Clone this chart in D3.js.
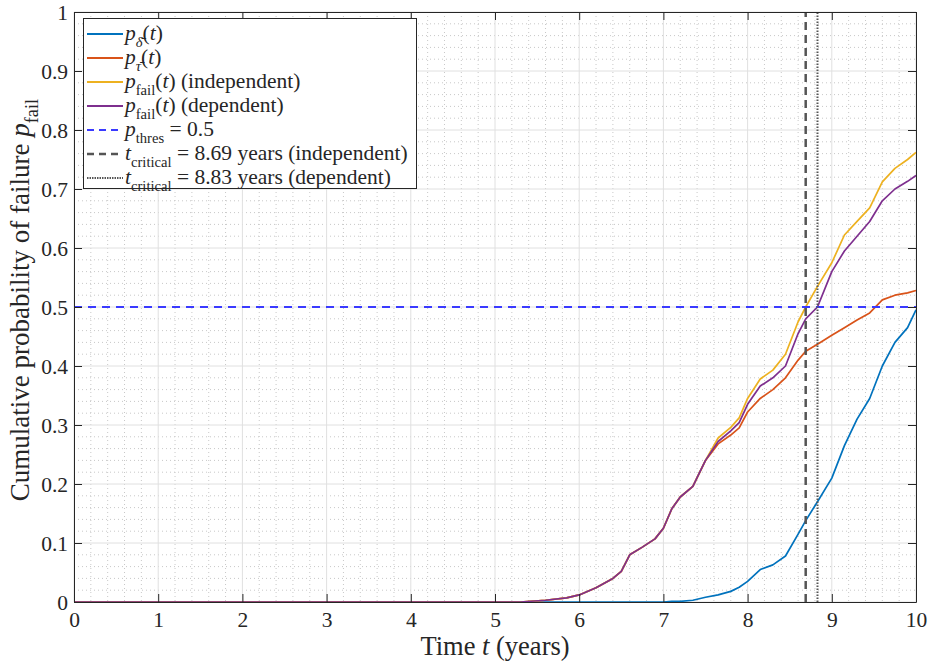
<!DOCTYPE html>
<html>
<head>
<meta charset="utf-8">
<script src="https://cdn.jsdelivr.net/npm/d3@7"></script>
<style>
  body { margin: 0; background: #fff; }
</style>
</head>
<body>
<svg id="chart" width="930" height="662"></svg>
<script>
// time grid (years) shared by the four curves
const years = [0, 5.3, 5.6, 5.85, 6.0, 6.2, 6.4, 6.5, 6.6, 6.75, 6.9, 7.0, 7.1, 7.2, 7.35, 7.5, 7.65, 7.8, 7.9, 8.0, 8.15, 8.3, 8.45, 8.6, 8.69, 8.83, 9.0, 9.15, 9.3, 9.45, 9.6, 9.75, 9.9, 10];

const pDelta = [0, 0, 0, 0, 0, 0, 0, 0, 0, 0, 0, 0, 0.001, 0.001, 0.003, 0.008, 0.012, 0.018, 0.025, 0.035, 0.055, 0.063, 0.078, 0.115, 0.138, 0.17, 0.21, 0.265, 0.31, 0.345, 0.4, 0.44, 0.465, 0.495];
const pTau = [0, 0, 0.003, 0.007, 0.012, 0.024, 0.04, 0.052, 0.08, 0.093, 0.107, 0.125, 0.158, 0.178, 0.196, 0.24, 0.268, 0.283, 0.295, 0.322, 0.345, 0.36, 0.38, 0.41, 0.425, 0.437, 0.452, 0.465, 0.478, 0.49, 0.512, 0.52, 0.524, 0.528];
const pFailIndep = [0, 0, 0.003, 0.007, 0.012, 0.024, 0.04, 0.052, 0.08, 0.093, 0.107, 0.125, 0.158, 0.178, 0.196, 0.24, 0.278, 0.296, 0.312, 0.345, 0.378, 0.393, 0.42, 0.475, 0.5, 0.535, 0.575, 0.622, 0.645, 0.668, 0.712, 0.735, 0.75, 0.762];
const pFailDep = [0, 0, 0.003, 0.007, 0.012, 0.024, 0.04, 0.052, 0.08, 0.093, 0.107, 0.125, 0.158, 0.178, 0.196, 0.24, 0.272, 0.29, 0.304, 0.335, 0.366, 0.38, 0.4, 0.455, 0.48, 0.5, 0.56, 0.595, 0.62, 0.645, 0.68, 0.7, 0.713, 0.723];

const pThres = 0.5;
const tCritIndep = 8.69;
const tCritDep = 8.83;

const xTicks = [0, 1, 2, 3, 4, 5, 6, 7, 8, 9, 10];
const yTicks = [0, 0.1, 0.2, 0.3, 0.4, 0.5, 0.6, 0.7, 0.8, 0.9, 1];

const FONT = "'Liberation Serif', 'DejaVu Serif', 'Times New Roman', serif";
const INK = "#262626";

const svg = d3.select("#chart");
const m = { left: 74, right: 916, top: 12, bottom: 602 };

const x = d3.scaleLinear().domain([0, 10]).range([m.left, m.right]);
const y = d3.scaleLinear().domain([0, 1]).range([m.bottom, m.top]);

// minor grid (dotted)
const xMinor = d3.range(0, 10.001, 0.2).filter(v => Math.abs(v - Math.round(v)) > 1e-6);
const yMinor = d3.range(0, 1.0001, 0.02).filter(v => Math.abs(v * 10 - Math.round(v * 10)) > 1e-6);
const grid = svg.append("g");
grid.selectAll(".mx").data(xMinor).join("line")
  .attr("x1", d => x(d)).attr("x2", d => x(d)).attr("y1", m.top).attr("y2", m.bottom)
  .attr("stroke", "#c8c8c8").attr("stroke-width", 1).attr("stroke-dasharray", "1,3");
grid.selectAll(".my").data(yMinor).join("line")
  .attr("x1", m.left).attr("x2", m.right).attr("y1", d => y(d)).attr("y2", d => y(d))
  .attr("stroke", "#c8c8c8").attr("stroke-width", 1).attr("stroke-dasharray", "1,3");
// major grid
grid.selectAll(".gx").data(xTicks).join("line")
  .attr("x1", d => x(d)).attr("x2", d => x(d)).attr("y1", m.top).attr("y2", m.bottom)
  .attr("stroke", "#e0e0e0").attr("stroke-width", 1);
grid.selectAll(".gy").data(yTicks).join("line")
  .attr("x1", m.left).attr("x2", m.right).attr("y1", d => y(d)).attr("y2", d => y(d))
  .attr("stroke", "#e0e0e0").attr("stroke-width", 1);

// curves
const series = [
  { values: pDelta, color: "#0072BD" },
  { values: pTau, color: "#D95319" },
  { values: pFailIndep, color: "#EDB120" },
  { values: pFailDep, color: "#7E2F8E" }
];
const line = d3.line().x((d, i) => x(years[i])).y(d => y(d));
svg.append("g").selectAll("path").data(series).join("path")
  .attr("d", d => line(d.values))
  .attr("fill", "none")
  .attr("stroke", d => d.color)
  .attr("stroke-width", 1.7)
  .attr("stroke-linejoin", "round");

// threshold and critical times
svg.append("line")
  .attr("x1", x(0)).attr("x2", x(10)).attr("y1", y(pThres)).attr("y2", y(pThres))
  .attr("stroke", "#3a3aff").attr("stroke-width", 2).attr("stroke-dasharray", "8,6");
svg.append("line")
  .attr("x1", x(tCritIndep)).attr("x2", x(tCritIndep)).attr("y1", y(0)).attr("y2", y(1))
  .attr("stroke", "#555").attr("stroke-width", 2.5).attr("stroke-dasharray", "8,5");
svg.append("line")
  .attr("x1", x(tCritDep)).attr("x2", x(tCritDep)).attr("y1", y(0)).attr("y2", y(1))
  .attr("stroke", "#555").attr("stroke-width", 2).attr("stroke-dasharray", "1.5,1.5");

// axes with inward ticks, box on
const fmtY = d => (d === 0 || d === 1) ? String(d) : d.toFixed(1);
const gx = svg.append("g").attr("transform", `translate(0,${m.bottom})`)
  .call(d3.axisBottom(x).tickValues(xTicks).tickSize(-8).tickPadding(10).tickSizeOuter(0));
const gy = svg.append("g").attr("transform", `translate(${m.left},0)`)
  .call(d3.axisLeft(y).tickValues(yTicks).tickFormat(fmtY).tickSize(-8).tickPadding(6).tickSizeOuter(0));
const gt = svg.append("g").attr("transform", `translate(0,${m.top})`)
  .call(d3.axisTop(x).tickValues(xTicks).tickFormat("").tickSize(-8).tickSizeOuter(0));
const gr = svg.append("g").attr("transform", `translate(${m.right},0)`)
  .call(d3.axisRight(y).tickValues(yTicks).tickFormat("").tickSize(-8).tickSizeOuter(0));
[gx, gy, gt, gr].forEach(g => {
  g.attr("font-family", null).attr("font-size", null);
  g.selectAll("path.domain").attr("stroke", INK).attr("stroke-width", 1);
  g.selectAll(".tick line").attr("stroke", INK);
  g.selectAll(".tick text").style("font-family", FONT).style("font-size", "21.5px").attr("fill", INK);
});
gx.selectAll(".tick text").attr("dy", "0.71em");
gy.selectAll(".tick text").attr("dy", "0.34em");

// rich text helper: parts with italic / subscript flags
function rich(sel, parts, size) {
  sel.style("font-family", FONT).attr("fill", INK);
  let shifted = 0;
  parts.forEach(p => {
    const ts = sel.append("tspan").text(p.t);
    const want = p.sub ? size * 0.32 : 0;
    if (want !== shifted) { ts.attr("dy", want - shifted); shifted = want; }
    ts.style("font-size", (p.sub ? size * 0.68 : size) + "px");
    if (p.i) ts.style("font-style", "italic");
  });
}

// axis labels
const xl = svg.append("text").attr("x", (m.left + m.right) / 2).attr("y", 655)
  .attr("text-anchor", "middle");
rich(xl, [{ t: "Time " }, { t: "t", i: true }, { t: " (years)" }], 26.5);

const yl = svg.append("text").attr("transform", `translate(29,300) rotate(-90)`)
  .attr("text-anchor", "middle");
rich(yl, [{ t: "Cumulative probability of failure " }, { t: "p", i: true }, { t: "fail", sub: true }], 27);

// legend
const legendItems = [
  { parts: [{ t: "p", i: true }, { t: "δ̄", i: true, sub: true }, { t: "(" }, { t: "t", i: true }, { t: ")" }], color: "#0072BD", dash: null, w: 2.2 },
  { parts: [{ t: "p", i: true }, { t: "τ̄", i: true, sub: true }, { t: "(" }, { t: "t", i: true }, { t: ")" }], color: "#D95319", dash: null, w: 2.2 },
  { parts: [{ t: "p", i: true }, { t: "fail", sub: true }, { t: "(" }, { t: "t", i: true }, { t: ") (independent)" }], color: "#EDB120", dash: null, w: 2.2 },
  { parts: [{ t: "p", i: true }, { t: "fail", sub: true }, { t: "(" }, { t: "t", i: true }, { t: ") (dependent)" }], color: "#7E2F8E", dash: null, w: 2.2 },
  { parts: [{ t: "p", i: true }, { t: "thres", sub: true }, { t: " = 0.5" }], color: "#3a3aff", dash: "7,5", w: 2.2 },
  { parts: [{ t: "t", i: true }, { t: "critical", sub: true }, { t: " = 8.69 years (independent)" }], color: "#555", dash: "7,5", w: 2.5 },
  { parts: [{ t: "t", i: true }, { t: "critical", sub: true }, { t: " = 8.83 years (dependent)" }], color: "#555", dash: "1.5,1", w: 2 }
];
const lg = svg.append("g");
lg.append("rect").attr("x", 83.5).attr("y", 18.5).attr("width", 333).attr("height", 170)
  .attr("fill", "#fff").attr("stroke", INK).attr("stroke-width", 1);
legendItems.forEach((item, i) => {
  const cy = 34 + i * 24;
  lg.append("line").attr("x1", 87).attr("x2", 123).attr("y1", cy).attr("y2", cy)
    .attr("stroke", item.color).attr("stroke-width", item.w)
    .attr("stroke-dasharray", item.dash);
  const t = lg.append("text").attr("x", 125).attr("y", cy + 6);
  rich(t, item.parts, 21.5);
});
</script>
</body>
</html>
